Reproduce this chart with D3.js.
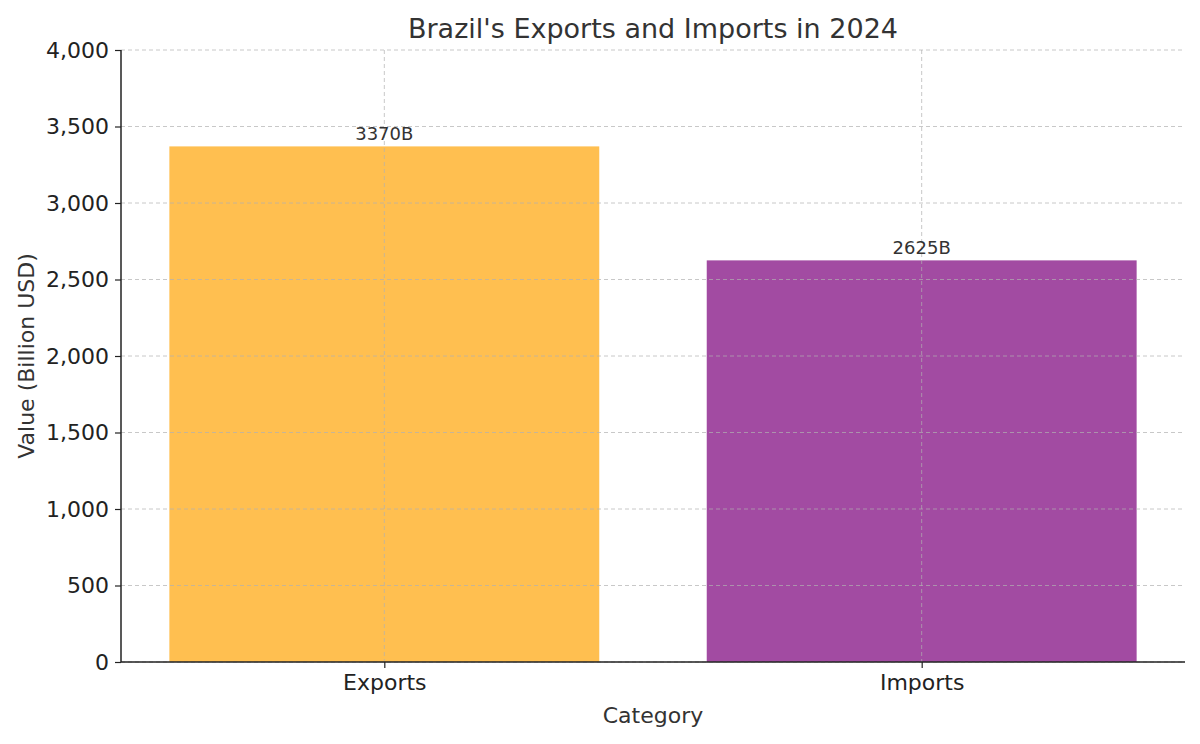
<!DOCTYPE html>
<html>
<head>
<meta charset="utf-8">
<script src="https://cdn.jsdelivr.net/npm/d3@7"></script>
<style>
  body { margin: 0; background: #fff; }
  text { font-family: "DejaVu Sans", sans-serif; }
</style>
</head>
<body>
<script>
// chart data
const categories = ['Exports', 'Imports']
const values = [3370, 2625]
const barColors = ['#FFBF50', '#A24BA2']
const yTicks = [0, 500, 1000, 1500, 2000, 2500, 3000, 3500, 4000]

const svgWidth = 1200
const svgHeight = 744
const margin = { top: 50, right: 15, bottom: 82, left: 121 }
const width = svgWidth - margin.left - margin.right
const height = svgHeight - margin.top - margin.bottom

const svg = d3.select('body').append('svg')
    .attr('width', svgWidth)
    .attr('height', svgHeight)

const chartGroup = svg.append('g')
    .attr('transform', `translate(${margin.left}, ${margin.top})`)

// matplotlib-like categorical positions
const x = d3.scaleLinear().domain([-0.49, 1.49]).range([0, width])
const y = d3.scaleLinear().domain([0, 4000]).range([height, 0])
const barW = x(0.8) - x(0)

// bars
chartGroup.selectAll('rect.bar')
    .data(categories)
    .enter()
    .append('rect')
    .attr('class', 'bar')
    .attr('x', (d, i) => x(i) - barW / 2)
    .attr('y', (d, i) => y(values[i]))
    .attr('width', barW)
    .attr('height', (d, i) => height - y(values[i]))
    .attr('fill', (d, i) => barColors[i])

// grid lines on top
chartGroup.selectAll('line.ygrid')
    .data(yTicks)
    .enter()
    .append('line')
    .attr('x1', 0).attr('x2', width)
    .attr('y1', d => y(d)).attr('y2', d => y(d))
    .attr('stroke', '#b0b0b0').attr('stroke-opacity', 0.7)
    .attr('stroke-dasharray', '4,3')
chartGroup.selectAll('line.xgrid')
    .data(categories)
    .enter()
    .append('line')
    .attr('x1', (d, i) => x(i)).attr('x2', (d, i) => x(i))
    .attr('y1', 0).attr('y2', height)
    .attr('stroke', '#b0b0b0').attr('stroke-opacity', 0.7)
    .attr('stroke-dasharray', '4,3')

// value labels
chartGroup.selectAll('text.val')
    .data(categories)
    .enter()
    .append('text')
    .attr('x', (d, i) => x(i))
    .attr('y', (d, i) => y(values[i]) - 6)
    .attr('text-anchor', 'middle')
    .attr('font-size', 18)
    .attr('fill', '#333')
    .text((d, i) => values[i] + 'B')

// axes
const yAxis = d3.axisLeft(y).tickValues(yTicks).tickSize(6).tickPadding(6)
const xAxis = d3.axisBottom(x).tickValues([0, 1]).tickFormat(i => categories[i]).tickSize(6).tickPadding(6)

const gy = chartGroup.append('g').call(yAxis)
const gx = chartGroup.append('g').attr('transform', `translate(0, ${height})`).call(xAxis)
;[gx, gy].forEach(g => {
    g.selectAll('text').attr('font-size', 22).attr('fill', '#222').style('font-family', 'DejaVu Sans')
    g.selectAll('line').attr('stroke', '#222').attr('stroke-width', 1.2)
    g.select('.domain').attr('stroke', '#222').attr('stroke-width', 1.5)
})
gy.select('.domain').attr('d', `M0,${height}V0`)
gx.select('.domain').attr('d', `M0,0H${width}`)

// titles
svg.append('text')
    .attr('x', margin.left + width / 2).attr('y', 38)
    .attr('text-anchor', 'middle').attr('font-size', 27).attr('fill', '#333')
    .text("Brazil's Exports and Imports in 2024")
svg.append('text')
    .attr('x', margin.left + width / 2).attr('y', 723)
    .attr('text-anchor', 'middle').attr('font-size', 22).attr('fill', '#333')
    .text('Category')
svg.append('text')
    .attr('transform', `translate(34, ${margin.top + height / 2}) rotate(-90)`)
    .attr('text-anchor', 'middle').attr('font-size', 22).attr('fill', '#333')
    .text('Value (Billion USD)')
</script>
</body>
</html>
